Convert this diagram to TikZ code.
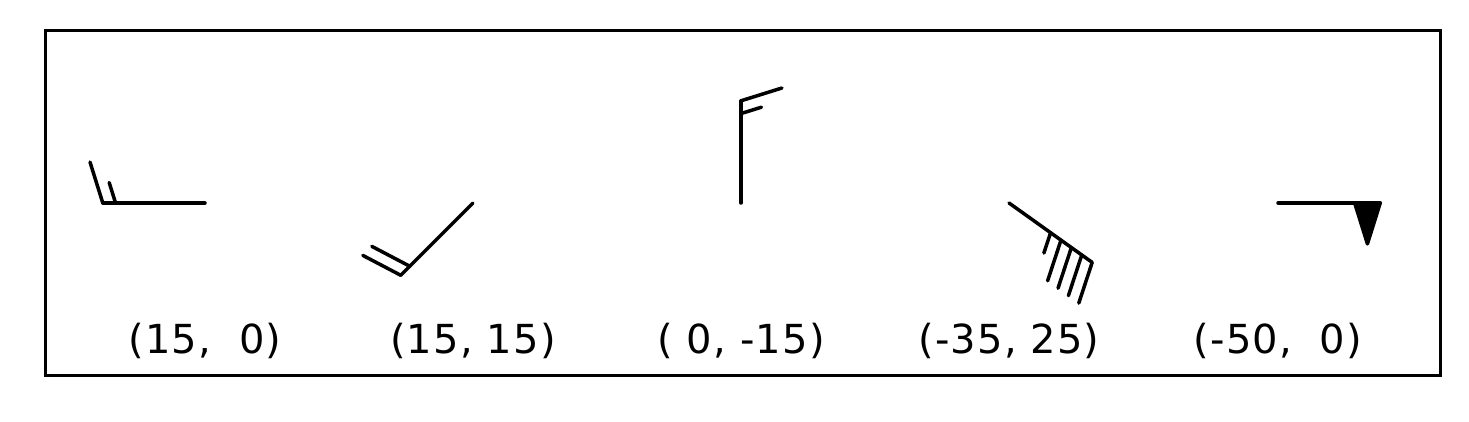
\documentclass[tikz,border=0pt]{standalone}
\usepackage{fontspec}
\setmainfont{DejaVu Sans}
\newfontfamily\labfont[LetterSpace=3]{DejaVu Sans}
\tikzset{
  wshaft/.style={line width=3.5pt,line cap=round,line join=round},
  wflag/.style={wshaft,fill=black},
  wlab/.style={font=\labfont\fontsize{40}{44}\selectfont,anchor=base},
  wframe/.style={line width=2.8pt},
}
\newcommand{\wbarb}[3]{% #1 = tip x, #2 = rotation, #3 = barbs in local units (staff along +y, length 7)
  \begin{scope}[shift={(#1,218)},rotate=#2,scale=14.6]
    \draw[wshaft] (0,0) -- (0,7);
    #3
  \end{scope}}

\begin{document}
\begin{tikzpicture}[x=1pt,y=1pt]
\useasboundingbox (0,0) rectangle (1469,421);
% ---- the axes box
\draw[wframe] (45.5,45.5) rectangle (1440.5,390.5);
% ---- the five barbs, pivot at the tip
\wbarb{205}{90}{
  \draw[wshaft] (0,7) -- (2.8,7.875);
  \draw[wshaft] (0,6.125) -- (1.4,6.5625);}
\wbarb{473}{135}{
  \draw[wshaft] (0,7) -- (2.8,7.875);
  \draw[wshaft] (0,6.125) -- (2.8,7);}
\wbarb{741}{0}{
  \draw[wshaft] (0,7) -- (2.8,7.875);
  \draw[wshaft] (0,6.125) -- (1.4,6.5625);}
\wbarb{1009}{-125.54}{
  \foreach \o in {7,6.125,5.25,4.375}
    \draw[wshaft] (0,\o) -- (2.8,\o+0.875);
  \draw[wshaft] (0,3.5) -- (1.4,3.9375);}
\wbarb{1278}{-90}{
  \filldraw[wflag] (0,7) -- (2.8,6.125) -- (0,5.25) -- cycle;}
% ---- the (u, v) labels
\node[wlab] (lab1) at (205,68) {(15,\ \ 0)};
\node[wlab] (lab2) at (473,68) {(15, 15)};
\node[wlab] (lab3) at (741,68) {(\ 0, -15)};
\node[wlab] (lab4) at (1009,68) {(-35, 25)};
\node[wlab] (lab5) at (1278,68) {(-50,\ \ 0)};
\end{tikzpicture}
\end{document}
